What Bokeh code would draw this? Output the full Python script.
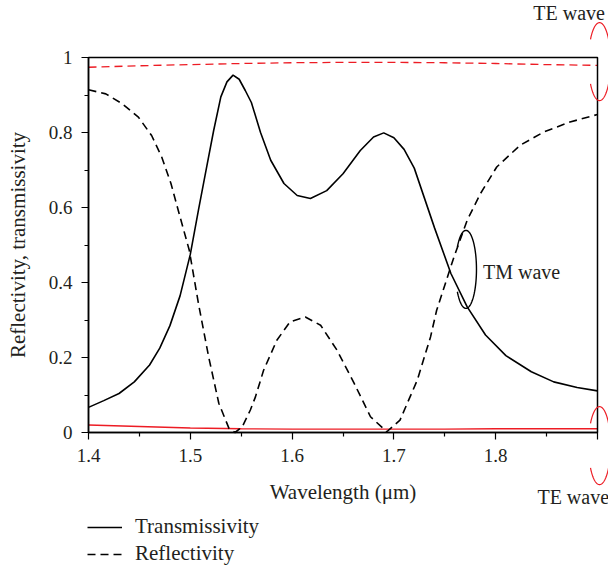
import numpy as np
from bokeh.plotting import figure
from bokeh.models import (FixedTicker, Legend, LegendItem, Label, PolyAnnotation, Range1d,
                          BoxAnnotation)
from bokeh.embed import file_html
from bokeh.resources import INLINE

# ---------------- data ----------------
wl_tm_trans = [1.400, 1.415, 1.430, 1.445, 1.460, 1.470, 1.480, 1.490, 1.500, 1.508,
               1.516, 1.523, 1.530, 1.536, 1.542, 1.548, 1.554, 1.560, 1.569, 1.579,
               1.592, 1.605, 1.618, 1.634, 1.650, 1.667, 1.680, 1.690, 1.700, 1.710,
               1.720, 1.730, 1.740, 1.756, 1.772, 1.790, 1.810, 1.835, 1.857, 1.880, 1.900]
tm_trans = [0.067, 0.085, 0.104, 0.135, 0.180, 0.225, 0.285, 0.365, 0.475, 0.593,
            0.707, 0.806, 0.895, 0.935, 0.953, 0.942, 0.912, 0.880, 0.800, 0.726,
            0.664, 0.632, 0.624, 0.645, 0.690, 0.752, 0.788, 0.799, 0.786, 0.755,
            0.705, 0.625, 0.545, 0.424, 0.335, 0.260, 0.205, 0.162, 0.135, 0.120, 0.111]

wl_tm_refl = [1.400, 1.417, 1.433, 1.449, 1.462, 1.472, 1.481, 1.489, 1.499, 1.508,
              1.518, 1.528, 1.538, 1.544, 1.551, 1.559, 1.564, 1.572, 1.585, 1.598,
              1.613, 1.628, 1.644, 1.661, 1.677, 1.693, 1.706, 1.723, 1.736, 1.742,
              1.759, 1.772, 1.785, 1.801, 1.824, 1.847, 1.873, 1.900]
tm_refl = [0.914, 0.903, 0.877, 0.841, 0.792, 0.734, 0.664, 0.584, 0.486, 0.344,
           0.202, 0.078, 0.011, 0.000, 0.015, 0.060, 0.095, 0.166, 0.246, 0.295,
           0.308, 0.286, 0.220, 0.131, 0.042, 0.002, 0.033, 0.140, 0.255, 0.326,
           0.468, 0.566, 0.637, 0.708, 0.766, 0.801, 0.828, 0.848]

wl_te = [1.40, 1.45, 1.50, 1.55, 1.60, 1.65, 1.70, 1.75, 1.80, 1.85, 1.90]
te_refl = [0.974, 0.978, 0.981, 0.984, 0.986, 0.987, 0.987, 0.986, 0.984, 0.981, 0.979]
te_trans = [0.020, 0.016, 0.012, 0.010, 0.009, 0.009, 0.009, 0.009, 0.010, 0.010, 0.010]

x_bounds = (1.4, 1.9)
y_bounds = (0.0, 1.0)
x_ticks = [1.4, 1.5, 1.6, 1.7, 1.8, 1.9]
x_tick_labels = ["1.4", "1.5", "1.6", "1.7", "1.8", ""]
x_minor = [1.45, 1.55, 1.65, 1.75, 1.85]
y_ticks = [0, 0.2, 0.4, 0.6, 0.8, 1.0]
y_tick_labels = ["0", "0.2", "0.4", "0.6", "0.8", "1"]
y_minor = [0.1, 0.3, 0.5, 0.7, 0.9]

series_names = ["Transmissivity", "Reflectivity"]
tm_label = "TM wave"
te_label = "TE wave"

# ---------------- styling / geometry ----------------
FONT = "Liberation Serif"
TXT = "#231f20"
RED = "#ed1c24"
FS_TICK = "19px"
FS_LAB = "21px"
FS_ANN = "20px"

W, H = 608, 573
BOX_LEFT = 88        # px from left to x = 1.4
BOX_TOP = 57         # px from top to y = 1
BOX_W, BOX_H = 509, 375
dx_px = (x_bounds[1] - x_bounds[0]) / BOX_W
dy_px = (y_bounds[1] - y_bounds[0]) / BOX_H
# the drawing area covers the whole canvas, so the annotations around the box
# (axis texts, labels, brackets, legend) are not clipped; axes sit at fixed places
x_rng = Range1d(x_bounds[0] - BOX_LEFT * dx_px, x_bounds[0] + (W - BOX_LEFT) * dx_px)
y_rng = Range1d(y_bounds[1] - (H - BOX_TOP) * dy_px, y_bounds[1] + BOX_TOP * dy_px)

p = figure(width=W, height=H, x_range=x_rng, y_range=y_rng, title=None,
           output_backend="svg", toolbar_location=None,
           min_border_left=0, min_border_right=0, min_border_top=0, min_border_bottom=0)
p.background_fill_color = "white"
p.border_fill_color = "white"
p.grid.visible = False
p.outline_line_color = None

# box around the plotting region
p.add_layout(BoxAnnotation(left=x_bounds[0], right=x_bounds[1], bottom=y_bounds[0],
                           top=y_bounds[1], fill_alpha=0, line_color="black",
                           line_alpha=1.0, line_width=1.5))

p.xaxis.ticker = FixedTicker(ticks=x_ticks, minor_ticks=x_minor)
p.yaxis.ticker = FixedTicker(ticks=y_ticks, minor_ticks=y_minor)
p.xaxis.major_label_overrides = {t: s for t, s in zip(x_ticks, x_tick_labels)}
p.yaxis.major_label_overrides = {t: s for t, s in zip(y_ticks, y_tick_labels)}
p.xaxis.bounds = x_bounds
p.yaxis.bounds = y_bounds
p.xaxis.fixed_location = y_bounds[0]
p.yaxis.fixed_location = x_bounds[0]

for ax in (p.xaxis[0], p.yaxis[0]):
    ax.axis_line_color = "black"
    ax.axis_line_width = 1.5
    ax.major_tick_in = 0
    ax.major_tick_out = 7
    ax.minor_tick_in = 0
    ax.minor_tick_out = 4
    ax.major_tick_line_width = 1.2
    ax.minor_tick_line_width = 1.2
    ax.major_tick_line_color = "black"
    ax.minor_tick_line_color = "black"
    ax.major_label_text_font = FONT
    ax.major_label_text_font_size = FS_TICK
    ax.major_label_text_color = TXT
    ax.axis_label_text_font = FONT
    ax.axis_label_text_font_size = FS_LAB
    ax.axis_label_text_font_style = "normal"
    ax.axis_label_text_color = TXT
    ax.major_label_standoff = 9

p.xaxis.axis_label = "Wavelength (\u03bcm)"
p.yaxis.axis_label = "Reflectivity, transmissivity"
p.xaxis.axis_label_standoff = 15
p.yaxis.axis_label_standoff = 16

# ---------------- curves ----------------
p.line(wl_te, te_refl, line_color=RED, line_width=1.3, line_dash="8 5")
p.line(wl_te, te_trans, line_color=RED, line_width=1.3)
r_t = p.line(wl_tm_trans, tm_trans, line_color="black", line_width=1.6)
r_r = p.line(wl_tm_refl, tm_refl, line_color="black", line_width=1.6, line_dash="8 5")

# TM wave loop (open on the left side)
th = np.radians(np.linspace(-145, 145, 80))
cx, cy = 1.7708, 0.435
p.line(cx + 10.5 * dx_px * np.cos(th), cy + 39 * dy_px * np.sin(th),
       line_color="black", line_width=1.4)
p.add_layout(Label(x=cx + 17 * dx_px, y=cy - 3 * dy_px, text=tm_label, text_font=FONT,
                   text_font_size=FS_ANN, text_color=TXT, text_baseline="middle"))

# TE wave brackets at the right edge (open arcs)
def arc(cx, cy, a, b, t0, t1):
    t = np.radians(np.linspace(t0, t1, 40))
    xs = list(cx + a * dx_px * np.cos(t))
    ys = list(cy + b * dy_px * np.sin(t))
    return xs + xs[::-1], ys + ys[::-1]

for (ccx, ccy) in [(1.902, 0.989), (1.902, -0.035)]:
    for (t0, t1) in [(35, 145), (215, 325)]:
        xs, ys = arc(ccx, ccy, 11, 39, t0, t1)
        p.add_layout(PolyAnnotation(xs=xs, ys=ys, fill_alpha=0, line_color=RED,
                                    line_alpha=1.0, line_width=1.2))

p.add_layout(Label(x=1.837, y=1.12, text=te_label, text_font=FONT, text_font_size=FS_ANN,
                   text_color=TXT, text_baseline="middle"))
p.add_layout(Label(x=1.841, y=-0.171, text=te_label, text_font=FONT, text_font_size=FS_ANN,
                   text_color=TXT, text_baseline="middle"))

# ---------------- legend below the axis title ----------------
legend = Legend(items=[LegendItem(label=series_names[0], renderers=[r_t]),
                       LegendItem(label=series_names[1], renderers=[r_r])],
                location=(BOX_LEFT - 1, 7), orientation="vertical")
legend.label_text_font = FONT
legend.label_text_font_size = FS_LAB
legend.label_text_color = TXT
legend.glyph_width = 35
legend.glyph_height = 20
legend.label_height = 20
legend.label_standoff = 13
legend.spacing = 2
legend.padding = 0
legend.margin = 0
legend.border_line_alpha = 0
legend.background_fill_alpha = 0
p.add_layout(legend)

open("out.html", "w").write(file_html(p, INLINE))
